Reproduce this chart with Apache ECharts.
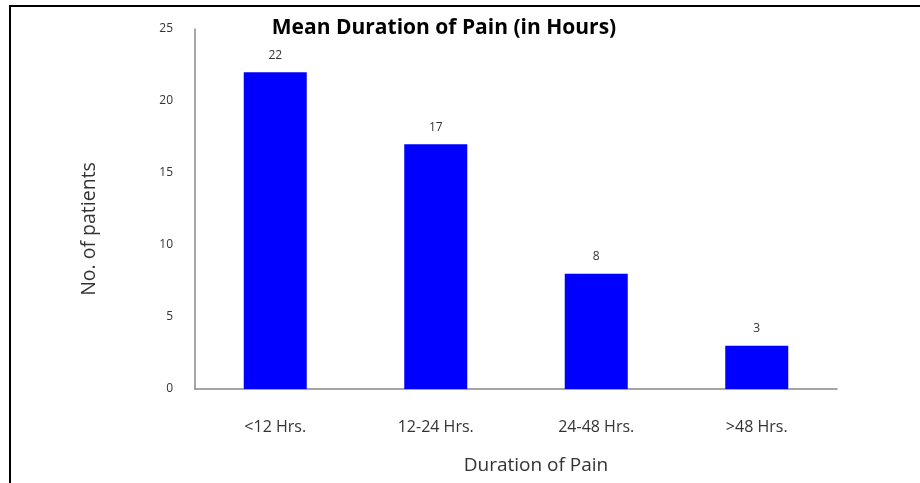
<!DOCTYPE html>
<html>
<head>
<meta charset="utf-8">
<script src="https://cdn.jsdelivr.net/npm/echarts@6/dist/echarts.min.js"></script>
<style>
  html, body { margin: 0; padding: 0; background: #fff; }
  #frame {
    position: absolute; left: 9px; top: 5px; width: 920px; height: 476px;
    border-left: 2px solid #000; border-top: 2px solid #000; border-bottom: 2px solid #777;
  }
  #myChart { position: absolute; left: 0; top: 0; width: 920px; height: 483px; }
</style>
</head>
<body>
<div id="frame"></div>
<div id="myChart"></div>
<script>
  var categories = ['<12 Hrs.', '12-24 Hrs.', '24-48 Hrs.', '>48 Hrs.']
  var patients = [22, 17, 8, 3]
  var yTicks = [0, 5, 10, 15, 20, 25]

  var font = '"Open Sans", sans-serif'
  var myChart = echarts.init(document.getElementById('myChart'))
  myChart.setOption({
    animation: false,
    title: {
      text: 'Mean Duration of Pain (in Hours)',
      left: 439,
      top: 13,
      textAlign: 'center',
      textStyle: { fontFamily: font, fontWeight: 'bold', fontSize: 21, color: '#000' }
    },
    grid: { left: 195, right: 83, top: 29, bottom: 94 },
    xAxis: {
      type: 'category',
      data: categories,
      axisLine: { lineStyle: { color: '#888', width: 1.5 } },
      axisTick: { show: false },
      axisLabel: { margin: 30, fontFamily: font, fontSize: 16, color: '#333' },
      name: 'Duration of Pain',
      nameLocation: 'middle',
      nameGap: 67,
      nameTextStyle: { fontFamily: font, fontSize: 19, color: '#333', padding: [0, 0, 0, 40] }
    },
    yAxis: {
      type: 'value',
      min: yTicks[0],
      max: yTicks[yTicks.length - 1],
      interval: 5,
      splitLine: { show: false },
      axisLine: { show: true, lineStyle: { color: '#888', width: 1.5 } },
      axisTick: { show: false },
      axisLabel: { margin: 22, fontFamily: font, fontSize: 12, color: '#333' },
      name: 'No. of patients',
      nameLocation: 'middle',
      nameGap: 96,
      nameTextStyle: { fontFamily: font, fontSize: 19.5, color: '#333', padding: [0, 40, 0, 0] }
    },
    series: [{
      type: 'bar',
      data: patients,
      barWidth: 63,
      itemStyle: { color: '#0000ff' },
      label: { show: true, position: 'top', distance: 11, fontFamily: font, fontSize: 12, color: '#333' }
    }]
  })
</script>
</body>
</html>
